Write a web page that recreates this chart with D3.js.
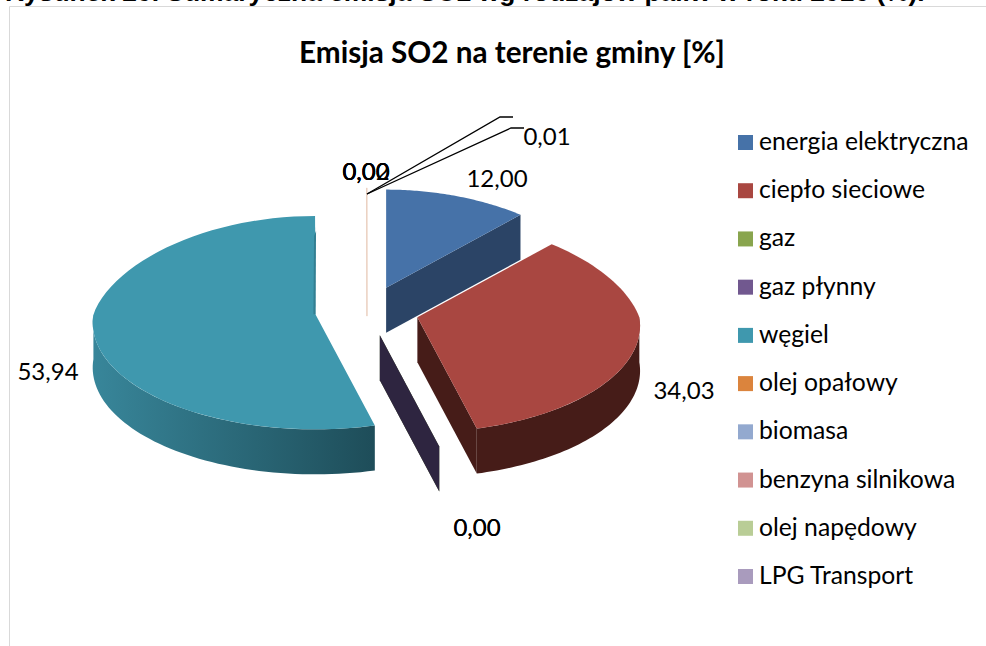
<!DOCTYPE html>
<html><head><meta charset="utf-8">
<script src="https://cdnjs.cloudflare.com/ajax/libs/d3/7.8.5/d3.min.js"></script>
<style>html,body{margin:0;background:#fff}svg{display:block}text{font-family:Lato,"Open Sans",sans-serif;fill:#000}</style>
</head><body><svg id="c" width="986" height="646"></svg>
<script>
const categories = ["energia elektryczna","ciepło sieciowe","gaz","gaz płynny","węgiel","olej opałowy","biomasa","benzyna silnikowa","olej napędowy","LPG Transport"];
const values = [12.00,34.03,0.00,0.00,53.94,0.02,0.01,0.00,0.00,0.00];
const topColors = ["#4672a8","#a94741","#89a54e","#71588f","#3f98ae","#db843d","#93a9cf","#d19392","#b9cd96","#a99bbd"];
const sideColors = ["#2b4466","#461c18","#4e5f2c","#2e2540","#1e4d59","#8a5322","#5a6a86","#8a5f5e","#77875f","#6b6080"];
const titleText = "Emisja SO2 na terenie gminy [%]";
const captionText = "Rysunek 20. Sumaryczna emisja SO2 wg rodzajów paliw w roku 2016 (%).";
// label placement: index, x, y (layout, not data)
const labelLayout = [[0,497,187],[1,684,399],[2,477,536],[3,477,536],[4,48,380],[5,366,180],[6,547,145],[7,366,180],[8,366,180],[9,366,180]];
const leaderA = [[367,194],[500,117],[513,117]];
const leaderB = [[367,194],[511,128],[524,128]];

const svg = d3.select("#c");
const fmt = v => d3.format(".2f")(v).replace(".",",");
const cx=367, cy=311, rx=222, ry=106, k=0.08, kBack=0.18, depth=45, exX=52, exY=25;
const pie = d3.pie().sort(null).value(d=>d)(values);
const line = d3.line();
const defs = svg.append("defs");
const rim = (o,a)=>{ const X=Math.sin(a),Y=-Math.cos(a),s=1/(1-k*Y),sx=Y<0?1/(1-kBack*Y):1/(1-k*Y); return [o[0]+rx*X*sx,o[1]+ry*Y*s]; };
const down = p=>[p[0],p[1]+depth];
const arcPts = (o,a0,a1)=>d3.range(0,61).map(i=>rim(o,a0+(a1-a0)*i/60));

// caption and frame
svg.append("text").attr("x",5).attr("y",1).attr("font-size",26.4).attr("font-weight",700)
  .style("font-family","'Liberation Sans',sans-serif").text(captionText);
svg.append("path").attr("d",line([[986,6.5],[9.5,6.5],[9.5,646]])).attr("fill","none").attr("stroke","#d9d9d9");
svg.append("text").attr("x",512).attr("y",63).attr("text-anchor","middle").attr("font-size",29.7).attr("font-weight",700).text(titleText);

pie.forEach((d,i)=>{
  const mid=(d.startAngle+d.endAngle)/2;
  const o=[cx+exX*Math.sin(mid),cy-exY*Math.cos(mid)];
  const g=svg.append("g");
  const quad=(a)=>{const e=rim(o,a);return line([o,e,down(e),down(o)])+"Z";};
  const tiny=d.endAngle-d.startAngle<0.01;
  // a zero slice in front of the pie shows only its wall
  if(!tiny || d.endAngle<Math.PI) g.append("path").attr("d",quad(d.endAngle)).attr("fill",sideColors[i]);
  const w0=Math.max(d.startAngle,Math.PI/2), w1=Math.min(d.endAngle,Math.PI*1.5);
  if(w1>w0){
    const top=arcPts(o,w0,w1);
    const xs=top.map(p=>p[0]);
    const id="w"+i;
    const gr=defs.append("linearGradient").attr("id",id).attr("gradientUnits","userSpaceOnUse")
      .attr("x1",d3.min(xs)).attr("x2",d3.max(xs)).attr("y1",0).attr("y2",0);
    const light=d3.color(topColors[i]).darker(0.35), dark=sideColors[i];
    gr.append("stop").attr("offset",0).attr("stop-color",i===4?light:dark);
    gr.append("stop").attr("offset",1).attr("stop-color",dark);
    g.append("path").attr("d",line(top.concat(top.map(down).reverse()))+"Z").attr("fill",`url(#${id})`);
  }
  if(d.endAngle-d.startAngle>0.5){
    g.append("path").attr("d",line([o].concat(arcPts(o,d.startAngle,d.endAngle)))+"Z").attr("fill",topColors[i]);
  }
  if(i===4){ // thin inner edge of the largest slice
    const e=rim(o,d.endAngle);
    g.append("path").attr("d",line([[o[0]-2,o[1]],[e[0]-1,e[1]+20],[e[0]+1,e[1]+15],[o[0],o[1]]])+"Z").attr("fill","#337f92");
  }
});
// thin slice seen edge-on, along its top edge and wall
const thin=pie[5], thinO=[cx+exX*Math.sin(thin.endAngle),cy-exY*Math.cos(thin.endAngle)], thinE=rim(thinO,thin.endAngle);
svg.append("path").attr("d",line([thinE,[thinO[0],thinO[1]+depth*0.67]])).attr("fill","none").attr("stroke","#e0b8a0").attr("stroke-width",1);

// leaders
[leaderA,leaderB].forEach(l=>svg.append("path").attr("d",line(l)).attr("fill","none").attr("stroke","#000").attr("stroke-width",1.3));
// data labels
labelLayout.forEach(([i,x,y])=>svg.append("text").attr("x",x).attr("y",y).attr("text-anchor","middle").attr("font-size",24).text(fmt(values[i])));
// legend
const ly=d3.scalePoint().domain(categories).range([142,576]);
categories.forEach((c,i)=>{
  svg.append("rect").attr("x",738).attr("y",ly(c)-7).attr("width",15).attr("height",15).attr("fill",topColors[i]);
  svg.append("text").attr("x",759).attr("y",ly(c)+8).attr("font-size",24.7).text(c);
});
</script></body></html>
